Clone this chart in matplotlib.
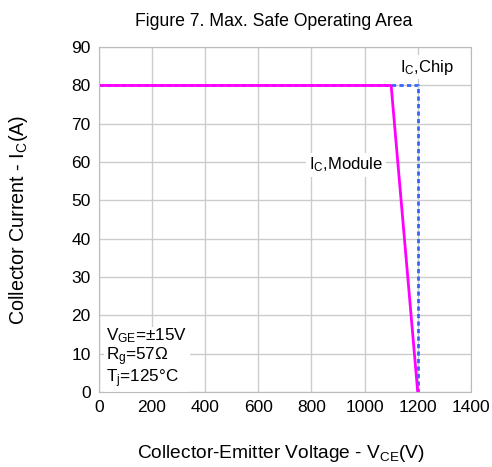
import matplotlib.pyplot as plt

# SOA boundaries (V_CE in V, I_C in A)
module_v = [0, 1100, 1200]
module_i = [80, 80, 0]
chip_v = [0, 1200, 1200]
chip_i = [80, 80, 0]

xticks = [0, 200, 400, 600, 800, 1000, 1200, 1400]
yticks = [0, 10, 20, 30, 40, 50, 60, 70, 80, 90]

plt.rcParams['font.family'] = ['Liberation Sans', 'DejaVu Sans']
plt.rcParams['mathtext.fontset'] = 'custom'
plt.rcParams['mathtext.rm'] = 'Liberation Sans'
plt.rcParams['mathtext.it'] = 'Liberation Sans:italic'

fig = plt.figure(figsize=(4.92, 4.67), dpi=100)
ax = fig.add_axes([0.201, 0.161, 0.756, 0.738])

ax.plot(chip_v, chip_i, color='#3366ff', linestyle=(0, (1.5, 1.2)), linewidth=2, zorder=3)
ax.plot(module_v, module_i, color='#ff00ff', linewidth=2, zorder=4)

ax.set_xlim(0, 1400)
ax.set_ylim(0, 90)
ax.set_xticks(xticks)
ax.set_yticks(yticks)
ax.grid(color='#cccccc', linewidth=1)
ax.set_axisbelow(True)
for s in ax.spines.values():
    s.set_color('#bbbbbb')
    s.set_zorder(5)
ax.tick_params(length=0, labelsize=12.5, pad=6)

ax.set_title('Figure 7. Max. Safe Operating Area', fontsize=12.7, pad=15, x=0.47)
ax.set_xlabel('Collector-Emitter Voltage - V$_{\\mathrm{CE}}$(V)', fontsize=13.8, labelpad=20, x=0.49)
ax.set_ylabel('Collector Current - I$_{\\mathrm{C}}$(A)', fontsize=14.2, labelpad=30)

box = dict(facecolor='white', edgecolor='none', pad=2)
ax.text(1133, 84.8, 'I$_{\\mathrm{C}}$,Chip', fontsize=12, ha='left', va='center', bbox=box)
ax.text(790, 59.2, 'I$_{\\mathrm{C}}$,Module', fontsize=12, ha='left', va='center', bbox=box)
ax.text(28, 8.7, 'V$_{\\mathrm{GE}}$=±15V\nR$_{\\mathrm{g}}$=57Ω\nT$_{\\mathrm{j}}$=125°C',
        fontsize=12.3, ha='left', va='center', linespacing=1.0,
        bbox=dict(facecolor='white', edgecolor='none', pad=1.5))

fig.savefig('out.png', dpi=100)
